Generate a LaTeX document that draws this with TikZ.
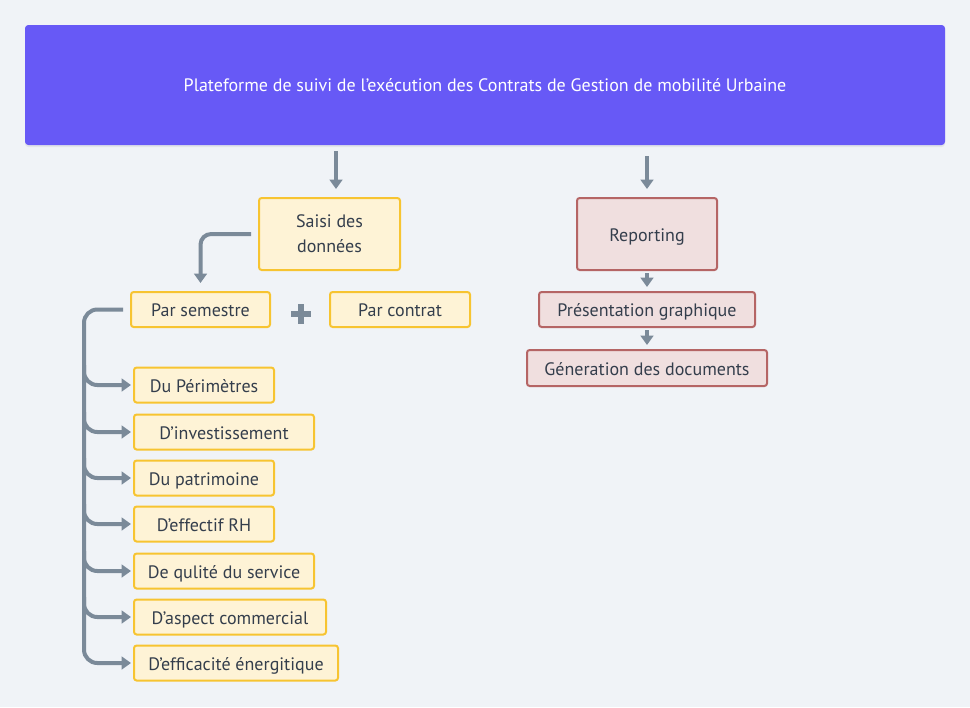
\documentclass[tikz,border=0pt]{standalone}
\usepackage{fontspec}
\setmainfont{PT Sans}
\usepackage{tikz}
\usetikzlibrary{arrows.meta,shadows,calc}
\definecolor{bgcol}{HTML}{F0F3F7}
\definecolor{banner}{HTML}{6759F6}
\definecolor{ink}{HTML}{343E4C}
\definecolor{linkcol}{HTML}{7B8A99}
\definecolor{yfill}{HTML}{FEF3D6}
\definecolor{yline}{HTML}{F7C431}
\definecolor{rfill}{HTML}{F0DFDF}
\definecolor{rline}{HTML}{B56565}

\begin{document}
\begin{tikzpicture}[x=0.75pt,y=-0.75pt,
    box/.style={line width=1.5pt,rounded corners=2pt,text=ink,inner sep=0pt,
      font=\fontsize{13.5}{19}\selectfont,minimum height=26.25pt,
      text height=11pt,text depth=0pt},
    ybox/.style={box,draw=yline,fill=yfill},
    rbox/.style={box,draw=rline,fill=rfill},
    link/.style={draw=linkcol,line width=3pt,-{Triangle[length=7pt,width=9.5pt]}}]
  \fill[bgcol] (0,0) rectangle (970,707);
  \node[fill=banner,rounded corners=2.5pt,minimum width=690pt,minimum height=90pt,
    text=white,font=\fontsize{13.5}{16}\selectfont,
    drop shadow={opacity=0.12,shadow xshift=0pt,shadow yshift=-1.5pt}]
    (platform) at (485,85) {Plateforme de suivi de l'exécution des Contrats de Gestion de mobilité Urbaine};
  \node[ybox,minimum width=105.75pt,minimum height=54pt,align=center,text height=28pt] (saisi) at (329.5,234) {Saisi des\\données};
  \node[rbox,minimum width=105pt,minimum height=54pt] (report) at (647,234) {Reporting};
  \node[ybox,minimum width=104.25pt] (semestre) at (200.5,309.5) {Par semestre};
  \node[ybox,minimum width=105pt] (contrat) at (400,309.5) {Par contrat};
  \node[rbox,minimum width=162pt] (graph) at (647,309.5) {Présentation graphique};
  \node[rbox,minimum width=180pt,minimum height=27pt] (docs) at (647,368) {Géneration des documents};
  \foreach \n/\y/\w/\t in {perim/385/140/Du Périmètres,invest/432/180/D'investissement,
      patri/478/140/Du patrimoine,rh/524/140/D'effectif RH,qual/571/180/De qulité du service,
      comm/617/192/D'aspect commercial,effic/663/204/D'efficacité énergitique}
    \node[ybox,anchor=west,minimum width=\w*0.75pt] (\n) at (133,\y) {\t};
  \draw[linkcol,line width=4.5pt] (291,314) -- (311,314) (301,304) -- (301,324);
  \draw[link] ($(platform.south -| saisi.north)+(6.5,6)$) -- ($(saisi.north)+(6.5,-8)$);
  \draw[link] ($(platform.south -| report.north)+(0,11)$) -- ($(report.north)+(0,-8)$);
  \draw[link] ($(report.south)+(0,2)$) -- ($(graph.north)+(0,-4)$);
  \draw[link] ($(graph.south)+(0,2)$) -- ($(docs.north)+(0,-4)$);
  \draw[link,rounded corners=8pt] ($(saisi.west)+(-7,0)$) -| ($(semestre.north)+(0,-8)$);
  \draw[link,rounded corners=10pt] ($(semestre.west)+(-7,0)$) -| ($(effic.west)+(-49,0)$) -- ($(effic.west)+(-2,0)$);
  \foreach \n in {perim,invest,patri,rh,qual,comm}
    \draw[link,rounded corners=10pt] ($(\n.west)+(-49,-20)$) |- ($(\n.west)+(-2,0)$);
\end{tikzpicture}
\end{document}
